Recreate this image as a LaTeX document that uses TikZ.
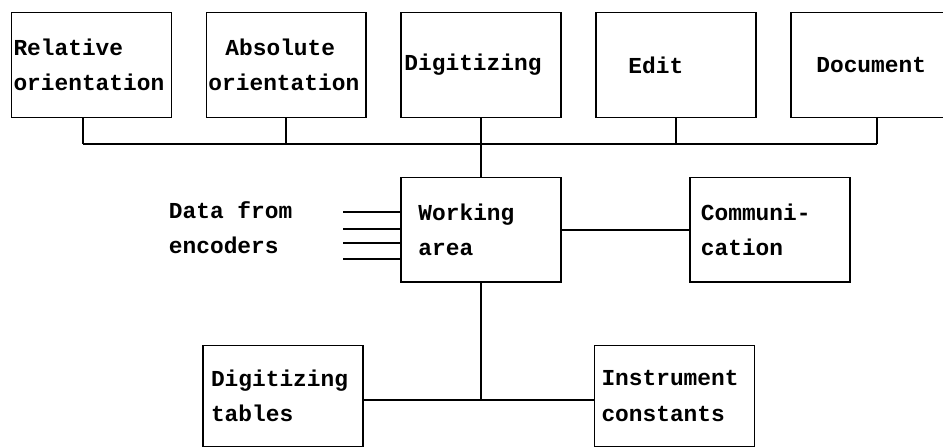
\documentclass[tikz,border=0pt]{standalone}
\usepackage{fontspec}
\newfontfamily\typew{Liberation Mono}

\begin{document}
\begin{tikzpicture}[x=0.02cm,y=-0.02cm,line width=1.1pt,node distance=3.9cm,
  every node/.style={font=\typew\bfseries\fontsize{13}{20}\selectfont},
  box/.style={draw,rectangle,minimum height=2.1cm,inner ysep=0pt,
    inner xsep=#1,text width=3.2cm-2*#1,align=left},
  box/.default=0.1cm]

\useasboundingbox (0,0) rectangle (943,447);

\node[box=0.04cm] (rel) at (91.5,65) {Relative\\orientation};
\node[box=0.04cm] (abs) [right of=rel] {\hspace*{0.34cm}Absolute\\orientation};
\node[box=0.06cm] (dig) [right of=abs] {Digitizing};
\node[box=0.64cm] (edit) [right of=dig] {Edit};
\node[box=0.5cm] (doc) [right of=edit] {Document};

\node[box=0.34cm] (work) [below of=dig,node distance=3.3cm] {Working\\area};
\node[box=0.22cm] (comm) [right of=work,node distance=5.77cm] {Communi-\\cation};

\node[box=0.16cm,minimum height=2.02cm] (tables) at (283,396) {Digitizing\\tables};
\node[box=0.14cm,minimum height=2.02cm] (instr) at (674.5,396) {Instrument\\constants};

\node[anchor=west,align=left,inner sep=0pt] (data) at (168,228) {Data from\\encoders};

% bus under the top row
\coordinate (busL) at (83,144);
\coordinate (busR) at (877,144);
\draw (busL) -- (busR);
\draw (rel.south -| busL) -- (busL);
\draw (abs.south) -- (abs.south |- busL);
\draw (dig.south) -- (work.north);
\draw (edit.south) -- (edit.south |- busL);
\draw (doc.south -| busR) -- (busR);

\foreach \y [count=\i] in {212,229,243,259}{
  \coordinate (enc\i) at (343,\y);
  \draw (enc\i) -- (enc\i -| work.west);
}
\draw (work.east) -- (comm.west);

\coordinate (junc) at (479,400);
\draw (work.south) -- (work.south |- junc);
\draw (tables.east |- junc) -- (instr.west |- junc);

\end{tikzpicture}
\end{document}
